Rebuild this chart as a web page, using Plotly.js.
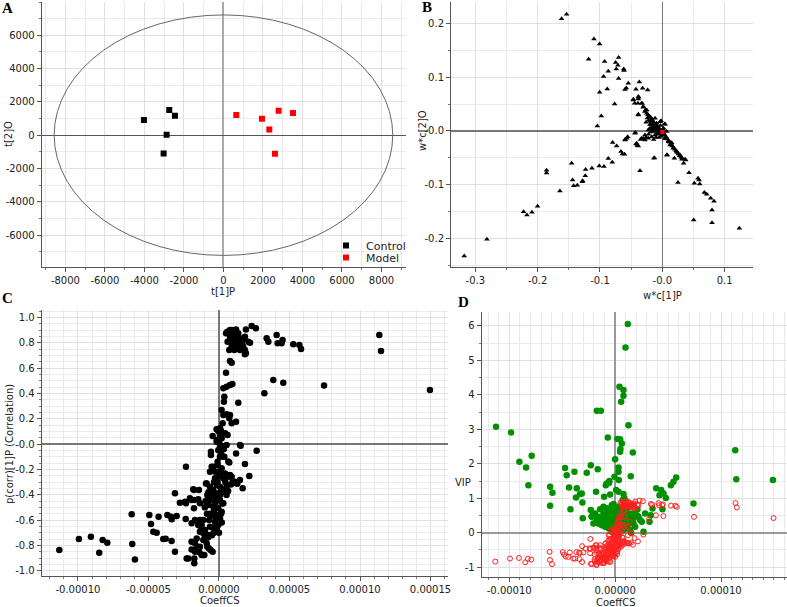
<!DOCTYPE html>
<html>
<head>
<meta charset="utf-8">
<script src="https://cdn.plot.ly/plotly-3.0.1.min.js"></script>
<style>html,body{margin:0;padding:0;background:#fff;}#chart{width:787px;height:607px;}</style>
</head>
<body>
<div id="chart"></div>
<script>
// ---------- Panel A: scores t[1]P vs t[2]O ----------
const controlT1 = [-4025, -2744, -2456, -2877, -3028];
const controlT2 = [913, 1510, 1170, 18, -1098];
const modelT1 = [650, 1949, 2793, 3519, 2321, 2608];
const modelT2 = [1212, 991, 1469, 1331, 334, -1116];
const ellipseRX = 8570, ellipseRY = 7224;

// ---------- Panel B: loadings w*c[1]P vs w*c[2]O ----------
const loadW1 = [
-0.1616,-0.1536,-0.1097,-0.1006,-0.1182,-0.0926,-0.0701,-0.0749,-0.0712,-0.0738,-0.062,-0.0615,-0.0867,-0.0942,-0.0701,-0.0546,-0.0369,-0.0578,-0.0599,-0.0883,-0.1006,-0.0423,-0.0316,-0.0235,-0.038,-0.0385,-0.0465,-0.0444,-0.0391,-0.0326,-0.0765,-0.0305,-0.0268,-0.0385,-0.0979,-0.1043,
-0.028,-0.025,-0.023,-0.021,-0.019,-0.017,-0.016,-0.0145,-0.013,-0.0107,-0.009,-0.0075,-0.006,-0.005,-0.02,-0.018,-0.015,-0.012,-0.022,-0.024,-0.01,-0.008,-0.015,-0.02,-0.002,0.004,-0.003,0.002,
-0.0465,-0.0385,-0.0331,-0.0305,-0.0385,-0.025,-0.0197,-0.017,-0.0144,-0.009,-0.0037,0.0043,-0.0438,-0.0571,-0.0599,-0.0411,-0.0385,-0.0278,-0.0225,-0.017,-0.0117,-0.0064,-0.0037,0.0016,0.0043,0.0096,0.0124,0.0177,0.0231,0.0284,0.0321,0.0364,0.0193,0.0071,-0.0133,-0.0225,-0.0144,-0.0278,-0.0331,0.0071,-0.009,-0.0117,
-0.0433,-0.0556,-0.0594,-0.0797,-0.0733,-0.0423,-0.0401,-0.0663,-0.0642,-0.0605,-0.0867,-0.0803,-0.1011,-0.0936,-0.1129,-0.1231,-0.1236,-0.1455,-0.1439,-0.1279,-0.1284,-0.1423,-0.1364,-0.1857,-0.1857,-0.1643,-0.2001,-0.2092,-0.2226,-0.2172,-0.2814,-0.3178,-0.0358,-0.0128,
0.008,0.0251,0.0316,0.0375,0.0342,0.0428,0.0503,0.0514,0.0573,0.0589,0.06,0.0674,0.0712,0.0776,0.0829,0.0797,0.0797,0.1236,
0.002,0.004,0.006,0.008,0.01,0.012,0.014,0.016,0.018,0.02,0.022,0.024,0.026,0.028,0.03,0.015,0.011,0.005,0.0,-0.002,-0.005,-0.007,-0.003,0.001,
-0.012,-0.016,-0.018,-0.022,-0.026,-0.014,-0.01,-0.008,-0.004,-0.02,-0.026,-0.03,-0.035
];
const loadW2 = [
0.2086,0.2173,0.1713,0.162,0.1335,0.1291,0.1366,0.1273,0.1223,0.1155,0.1155,0.1124,0.1111,0.1012,0.0975,0.0888,0.0912,0.0801,0.077,0.0782,0.072,0.0776,0.0795,0.0763,0.0627,0.0596,0.059,0.0515,0.0515,0.0515,0.0503,0.0441,0.0391,0.031,0.0279,0.0093,
0.036,0.033,0.030,0.027,0.025,0.022,0.020,0.017,0.015,0.013,0.010,0.008,0.006,0.004,0.018,0.012,0.009,0.005,0.02,0.024,0.002,0.0,0.0,0.005,0.019,0.013,0.01,0.005,
0.0577,0.0639,0.0516,0.0453,0.0298,0.039,0.0266,0.0173,0.008,0.0143,0.0173,0.0125,-0.0043,-0.0136,-0.0168,-0.0229,-0.0279,-0.0168,-0.0136,-0.0106,-0.0074,-0.0043,0.0019,-0.0074,-0.0136,-0.0199,-0.0261,-0.0322,-0.0385,-0.0447,-0.0508,-0.0527,-0.0508,-0.0447,-0.0508,0.0019,-0.0012,-0.0074,-0.0136,-0.0012,0.005,0.0236,
-0.0031,-0.0106,-0.0155,-0.0217,-0.0279,-0.0242,-0.0273,-0.0385,-0.0428,-0.0435,-0.0515,-0.0583,-0.0652,-0.0664,-0.0695,-0.072,-0.0832,-0.0602,-0.0912,-0.0925,-0.0944,-0.1018,-0.1012,-0.0732,-0.0782,-0.1117,-0.1403,-0.1515,-0.1502,-0.1564,-0.2017,-0.2328,-0.0739,-0.0497,
-0.0447,-0.0962,-0.0528,-0.054,-0.0602,-0.0776,-0.1657,-0.0975,-0.0881,-0.0912,-0.0987,-0.1148,-0.1179,-0.1254,-0.131,-0.1471,-0.1707,-0.1813,
-0.004,-0.008,-0.011,-0.015,-0.018,-0.021,-0.024,-0.028,-0.031,-0.034,-0.037,-0.040,-0.043,-0.046,-0.049,-0.022,-0.02,-0.014,-0.006,-0.01,-0.012,-0.006,0.0,0.003,
0.01,0.004,-0.002,-0.006,-0.012,-0.016,-0.012,-0.004,-0.003,0.012,0.016,-0.014,-0.016
];
const highlightW1 = [0.0];
const highlightW2 = [-0.002];

// ---------- Panel C: CoeffCS (x 1e-5) vs p(corr)[1]P ----------
const coeffCS_e5 = [
0.50,0.78,1.02,1.21,0.78,0.61,0.9,1.13,1.30,1.49,1.68,1.91,2.32,2.62,2.2,1.84,1.91,0.9,1.09,0.73,0.78,0.9,1.13,1.37,1.58,1.73,3.38,3.5,4.09,4.16,4.44,4.51,5.27,5.70,5.82,11.37,11.49,4.56,3.85,3.22,7.45,0.50,0.31,0.54,0.78,0.95,0.38,1.37,0.19,0.31,0.54,0.73,1.21,0.26,0.07,-0.17,0.14,0.43,0.61,-0.45,0.19,0.02,
0.59,0.90,1.49,1.84,2.08,1.02,1.61,1.84,1.37,1.13,1.49,1.72,0.35,0.78,0.90,-0.05,0.07,-0.16,14.96,
0.26,0.54,1.54,2.67,1.21,0.19,-0.57,-0.57,0.07,0.38,0.73,1.84,-0.52,-2.34,2.15,-0.09,0.19,0.78,-0.28,1.13,1.30,1.68,0.97,-0.92,-3.12,-1.77,-1.42,-2.06,-2.41,-1.75,-2.77,-0.83,-1.35,-6.19,-4.94,-4.28,-3.66,-3.40,-3.0,-2.36,-4.82,-4.66,-4.42,-3.95,-3.78,-3.36,-3.12,-1.70,-1.51,-1.35,-1.47,-1.28,-1.94,-1.70,-1.54,-1.94,-1.70,-1.39,-1.23,-1.04,-2.29,-1.75,-1.75,-0.71,-0.59,-0.45,-0.87,-0.76,-0.99,-1.11,-0.40,-11.32,-9.93,-9.08,-8.25,-7.92,-8.49,-6.15,-5.96,
-0.16,0.07,0.31,0.66,1.49,-0.40,-0.09,0.19,-0.64,-0.28,0.07,0.43,0.66,0.90,1.26,1.49,-0.87,-0.64,-0.40,-0.16,0.07,0.31,0.54,-0.05,-0.28,0.07,0.31,-0.64,-0.76,-0.40,-0.05,0.19,-0.16,-0.52,0.07,-0.28,-0.05,-0.64,-0.28,-1.11,-1.23,-0.99,-1.35,-0.76,-1.58,-1.11,-0.83,-1.35,-1.70,-1.11,-2.18,-1.82,-1.94,-1.47,-2.34,-1.77,-3.35,-1.94,
-0.2,0.1,-0.35,0.45,-0.5,0.2,-0.45,-0.6,0.0,-0.15,-0.35,0.25,-0.1,0.4,-0.25,-0.5,-0.3,0.15,-0.7,-0.85,-0.95,-1.0,-0.75,0.0,0.3,0.55,0.65,0.85,0.2,-0.1,0.15,-0.05,0.35
];
const pcorr = [
0.874,0.90,0.874,0.905,0.847,0.808,0.803,0.813,0.80,0.816,0.826,0.905,0.932,0.913,0.80,0.742,0.716,0.768,0.742,0.742,0.655,0.642,0.853,0.874,0.782,0.821,0.834,0.808,0.861,0.795,0.795,0.821,0.787,0.782,0.75,0.861,0.734,0.484,0.505,0.40,0.461,0.563,0.44,0.453,0.466,0.474,0.374,0.326,0.268,0.229,0.234,0.203,0.176,0.163,0.124,0.116,0.105,0.084,0.071,0.063,0.045,0.018,
0.886,0.90,0.834,0.847,0.808,0.795,0.787,0.708,0.768,0.755,0.742,0.768,0.334,0.229,0.163,0.103,0.071,0.032,0.426,
-0.016,-0.008,-0.013,-0.053,-0.074,-0.047,-0.061,-0.087,-0.1,-0.1,-0.145,-0.158,-0.179,-0.179,-0.253,-0.218,-0.232,-0.245,-0.271,-0.297,-0.311,-0.35,-0.297,-0.311,-0.389,-0.363,-0.363,-0.429,-0.455,-0.442,-0.463,-0.403,-0.468,-0.555,-0.561,-0.574,-0.561,-0.574,-0.568,-0.592,-0.632,-0.692,-0.70,-0.75,-0.747,-0.766,-0.85,-0.60,-0.608,-0.60,-0.639,-0.679,-0.771,-0.784,-0.811,-0.832,-0.85,-0.855,-0.876,-0.876,-0.903,-0.903,-0.942,-0.824,-0.837,-0.85,-0.784,-0.737,-0.732,-0.705,-0.705,-0.837,-0.75,-0.732,-0.758,-0.779,-0.858,-0.789,-0.911,
0.018,-0.021,-0.1,-0.139,-0.008,-0.179,-0.166,-0.192,-0.218,-0.218,-0.232,-0.232,-0.258,-0.258,-0.311,-0.284,-0.311,-0.337,-0.363,-0.324,-0.337,-0.376,-0.403,-0.389,-0.416,-0.442,-0.468,-0.442,-0.481,-0.495,-0.508,-0.534,-0.560,-0.560,-0.587,-0.613,-0.639,-0.653,-0.679,-0.60,-0.639,-0.679,-0.692,-0.718,-0.745,-0.758,-0.811,-0.811,-0.837,-0.876,-0.903,-0.358,-0.442,-0.437,-0.468,-0.508,-0.594,-0.626,
-0.45,-0.40,-0.30,-0.30,-0.40,-0.62,-0.66,-0.55,-0.70,-0.68,-0.52,-0.47,-0.30,-0.36,-0.58,-0.72,-0.47,-0.55,-0.6,-0.55,-0.45,-0.5,-0.38,-0.25,-0.27,-0.33,-0.37,-0.32,-0.36,-0.14,-0.08,-0.05,-0.04
];

// ---------- Panel D: CoeffCS (x 1e-5) vs VIP ----------
const vipCoeff_e5 = [
1.20,0.98,0.41,0.79,0.79,0.57,-1.73,-1.35,1.26,-11.25,-9.83,-0.69,0.22,0.47,0.63,0.50,0.47,1.67,11.34,-7.88,-9.04,-8.41,-8.19,-2.30,-1.64,-4.73,-4.57,-3.84,-2.68,0.32,0.32,0.0,0.35,1.48,-0.06,-0.54,-0.79,-0.88,-0.57,0.09,0.32,0.79,0.88,-0.47,-1.04,-1.80,-6.14,-5.92,-6.14,-4.35,-3.62,-3.31,-3.15,-3.69,-3.09,-4.22,-3.06,-2.30,-2.21,-1.42,-1.10,-0.16,0.72,3.88,4.19,4.57,4.35,4.79,5.26,5.51,5.77,3.53,4.47,7.40,11.44,14.90,3.25,2.68,3.37,2.84,2.11,2.21,1.73,1.42,1.51,
-2.21,-1.89,-1.58,-1.26,-0.95,-0.79,-0.63,-0.47,-0.32,-0.16,0.0,0.16,0.32,0.47,0.63,0.79,0.95,1.10,1.26,1.42,1.58,1.73,1.89,2.05,-0.79,-1.10,-1.42,-1.73,-2.05,-0.16,0.0,0.16,0.32,-0.32,-0.47,0.16,-0.16,0.47,0.63,0.47,0.32,-0.32,-0.63,-0.95,-1.26,-1.58,0.79,1.10,1.42,0.95,1.26,1.73,2.36,2.52,-1.10,-1.42,-0.63,-0.32,0.0,0.0,0.0,-0.16,0.16,0.32,0.47,0.63,0.79
];
const vip = [
6.05,5.37,4.23,4.14,3.97,3.80,3.54,3.54,3.12,3.07,2.91,2.76,2.72,2.71,2.59,2.43,2.35,2.33,2.39,2.23,2.06,1.89,1.38,1.96,1.84,1.88,1.67,1.77,1.74,1.89,1.77,2.13,1.53,1.64,1.62,1.50,1.43,1.38,1.45,1.24,1.19,1.12,1.0,1.11,1.04,1.19,1.33,1.16,0.78,1.31,1.29,1.12,1.14,1.02,0.88,0.68,0.42,0.66,0.46,0.68,0.75,0.83,0.95,1.29,1.09,1.14,1.24,1.01,1.38,1.48,1.60,0.70,0.68,0.85,1.55,1.53,0.32,0.03,0.51,0.56,0.68,0.46,0.42,0.27,0.0,
0.48,0.56,0.46,0.37,0.32,0.56,0.42,0.27,0.17,0.08,0.03,0.13,0.22,0.32,0.42,0.51,0.61,0.71,0.46,0.56,0.37,0.27,0.17,0.51,0.71,0.56,0.27,0.37,0.27,0.46,0.37,0.56,0.46,0.37,0.51,0.75,0.66,0.66,0.17,0.08,0.03,0.03,0.13,0.17,0.22,0.27,0.08,0.13,0.08,0.32,0.27,0.56,0.37,0.32,0.42,0.42,0.66,0.80,0.71,0.56,0.22,0.27,0.37,0.32,0.46,0.71,0.80
];

// ---------- Tick labels ----------
const aXTicks = [-8000,-6000,-4000,-2000,0,2000,4000,6000,8000];
const aYTicks = [-6000,-4000,-2000,0,2000,4000,6000];
const bXTicks = [-0.3,-0.2,-0.1,0,0.1];
const bXLabels = ['-0.3','-0.2','-0.1','-0.0','0.1'];
const bYTicks = [-0.2,-0.1,0,0.1,0.2];
const bYLabels = ['-0.2','-0.1','-0.0','0.1','0.2'];
const cXTicks = [-0.0001,-0.00005,0,0.00005,0.0001,0.00015];
const cXLabels = ['-0.00010','-0.00005','0.00000','0.00005','0.00010','0.00015'];
const cYTicks = [-1,-0.8,-0.6,-0.4,-0.2,0,0.2,0.4,0.6,0.8,1];
const cYLabels = ['-1.0','-0.8','-0.6','-0.4','-0.2','-0.0','0.2','0.4','0.6','0.8','1.0'];
const dXTicks = [-0.0001,0,0.0001];
const dXLabels = ['-0.00010','0.00000','0.00010'];
const dYTicks = [-1,0,1,2,3,4,5,6];

// ---------- build ----------
const W = 787, H = 607;
const px = v => v / W;
const py = v => 1 - v / H;
const e5 = arr => arr.map(v => v * 1e-5);
const cX = e5(coeffCS_e5);
const dX = e5(vipCoeff_e5);

const FONT = 'DejaVu Sans, Verdana, sans-serif';
function axis(o) {
  return Object.assign({
    showline: true, linecolor: '#555', linewidth: 1,
    ticks: 'outside', ticklen: 4, tickcolor: '#555',
    showgrid: true, gridcolor: '#e0e0e0', gridwidth: 1,
    zeroline: true, zerolinecolor: '#777', zerolinewidth: 1.5,
    tickfont: { family: FONT, size: 10, color: '#222' },
    fixedrange: true, tickmode: 'array'
  }, o);
}
function minor(d) {
  return { tick0: 0, dtick: d, showgrid: true, gridcolor: '#eaeaea', gridwidth: 1, ticks: 'outside', ticklen: 2, tickcolor: '#777' };
}

const traces = [
  { type: 'scatter', mode: 'markers', name: 'Control', x: controlT1, y: controlT2, xaxis: 'x', yaxis: 'y',
    legend: 'legend', marker: { symbol: 'square', size: 6, color: '#000' } },
  { type: 'scatter', mode: 'markers', name: 'Model', x: modelT1, y: modelT2, xaxis: 'x', yaxis: 'y',
    legend: 'legend2', marker: { symbol: 'square', size: 6, color: '#ff0000' } },
  { type: 'scatter', mode: 'markers', showlegend: false, x: loadW1, y: loadW2, xaxis: 'x2', yaxis: 'y2',
    marker: { symbol: 'triangle-up', size: 5, color: '#000' } },
  { type: 'scatter', mode: 'markers', showlegend: false, x: highlightW1, y: highlightW2, xaxis: 'x2', yaxis: 'y2',
    marker: { symbol: 'square', size: 4, color: '#ff0000' } },
  { type: 'scatter', mode: 'markers', showlegend: false, x: cX, y: pcorr, xaxis: 'x3', yaxis: 'y3',
    marker: { symbol: 'circle', size: 6.5, color: '#000' } },
  { type: 'scatter', mode: 'markers', showlegend: false, x: dX, y: vip, xaxis: 'x4', yaxis: 'y4',
    marker: { symbol: 'circle', size: 6.5, color: '#009000' } },
  { type: 'scatter', mode: 'markers', showlegend: false, x: cX, y: pcorr, xaxis: 'x4', yaxis: 'y4',
    marker: { symbol: 'circle-open', size: 5, color: '#ff2020', line: { width: 1, color: '#ff2020' } } }
];

function title(text, x, y, rot, size) {
  return { text: text, xref: 'paper', yref: 'paper', x: px(x), y: py(y), showarrow: false,
    xanchor: 'center', yanchor: 'middle', textangle: rot || 0,
    font: { family: FONT, size: size || 10, color: '#222' } };
}
function letter(text, x, y) {
  return { text: '<b>' + text + '</b>', xref: 'paper', yref: 'paper', x: px(x), y: py(y), showarrow: false,
    xanchor: 'center', yanchor: 'middle', font: { family: 'Liberation Serif, Times New Roman, serif', size: 15, color: '#000' } };
}
function legendBox(top) {
  return { x: px(326), y: py(top), xanchor: 'left', yanchor: 'top', bgcolor: 'rgba(0,0,0,0)',
    font: { family: FONT, size: 11, color: '#222' }, itemwidth: 30 };
}

const layout = {
  width: W, height: H,
  margin: { l: 0, r: 0, t: 0, b: 0 },
  paper_bgcolor: '#fff', plot_bgcolor: '#fff',
  showlegend: true,
  legend: legendBox(231),
  legend2: legendBox(243),
  xaxis: axis({ domain: [px(41.7), px(406)], range: [-9200, 9240], anchor: 'y',
    tickvals: aXTicks, ticktext: aXTicks.map(String), minor: minor(1000), zerolinecolor: '#aaa', zerolinewidth: 2 }),
  yaxis: axis({ domain: [py(267), py(2)], range: [-7920, 8000], anchor: 'x',
    tickvals: aYTicks, ticktext: aYTicks.map(String), minor: minor(1000), zerolinecolor: '#555', zerolinewidth: 1 }),
  xaxis2: axis({ domain: [px(451), px(752.7)], range: [-0.339, 0.145], anchor: 'y2',
    tickvals: bXTicks, ticktext: bXLabels, minor: minor(0.05) }),
  yaxis2: axis({ domain: [py(266.7), py(2)], range: [-0.2527, 0.24], anchor: 'x2',
    tickvals: bYTicks, ticktext: bYLabels, minor: minor(0.05) }),
  xaxis3: axis({ domain: [px(41.7), px(448)], range: [-0.0001257, 0.0001624], anchor: 'y3',
    tickvals: cXTicks, ticktext: cXLabels, minor: minor(0.00001) }),
  yaxis3: axis({ domain: [py(576), py(310)], range: [-1.042, 1.058], anchor: 'x3',
    tickvals: cYTicks, ticktext: cYLabels, minor: minor(0.05) }),
  xaxis4: axis({ domain: [px(481.7), px(787)], range: [-0.000126, 0.0001623], anchor: 'y4',
    tickvals: dXTicks, ticktext: dXLabels, minor: minor(0.00001), zerolinecolor: '#999', zerolinewidth: 2 }),
  yaxis4: axis({ domain: [py(576.7), py(311.7)], range: [-1.275, 6.41], anchor: 'x4',
    tickvals: dYTicks, ticktext: dYTicks.map(String), minor: minor(0.5), zerolinecolor: '#999', zerolinewidth: 2 }),
  shapes: [
    { type: 'circle', xref: 'x', yref: 'y', x0: -ellipseRX, x1: ellipseRX, y0: -ellipseRY, y1: ellipseRY,
      line: { color: '#666', width: 1 }, layer: 'above' }
  ],
  annotations: [
    letter('A', 7, 8), letter('B', 427, 7), letter('C', 7, 298), letter('D', 463, 302),
    title('t[1]P', 223, 291, 0), title('t[2]O', 8, 134, -90),
    title('w*c[1]P', 662, 295, 0), title('w*c[2]O', 423, 131, -90),
    title('CoeffCS', 219, 600, 0), title('p(corr)[1]P (Correlation)', 9, 444, -90),
    title('CoeffCS', 615, 602, 0), title('VIP', 463, 482, 0)
  ]
};

Plotly.newPlot('chart', traces, layout, { staticPlot: true, displayModeBar: false });
</script>
</body>
</html>
